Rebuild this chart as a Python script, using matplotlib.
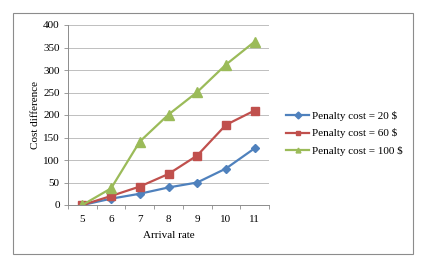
import matplotlib.pyplot as plt
from matplotlib.patches import Rectangle

# data
arrival = ["5", "6", "7", "8", "9", "10", "11"]
cost_20 = [0, 14, 25, 39, 50, 81, 126]
cost_60 = [0, 20, 41, 69, 110, 178, 210]
cost_100 = [0, 37, 141, 201, 251, 312, 363]
labels = ["Penalty cost = 20 $", "Penalty cost = 60 $", "Penalty cost = 100 $"]

plt.rcParams['font.family'] = ['Liberation Serif', 'DejaVu Serif']
plt.rcParams['font.size'] = 8

fig = plt.figure(figsize=(4.26, 2.66), dpi=100)
fig.patches.append(Rectangle((13 / 426, 1 - 254 / 266), 400 / 426, 241 / 266,
                             transform=fig.transFigure, fill=False,
                             edgecolor="#8c8c8c", linewidth=0.8))
ax = fig.add_axes([68 / 426, 1 - 205 / 266, 201 / 426, 180 / 266])

x = list(range(len(arrival)))
ax.plot(x, cost_20, color="#4F81BD", marker="D", markersize=4.5, lw=1.6, label=labels[0])
ax.plot(x, cost_60, color="#C0504D", marker="s", markersize=5.5, lw=1.6, label=labels[1])
ax.plot(x, cost_100, color="#9BBB59", marker="^", markersize=6.5, lw=1.6, label=labels[2])

ax.set_xlim(-0.5, len(arrival) - 0.5)
ax.set_ylim(0, 400)
ax.set_yticks(range(0, 401, 50))
ax.set_xticks(x)
ax.set_xticklabels(arrival)
ax.set_xticks([i - 0.5 for i in range(len(arrival) + 1)], minor=True)
ax.tick_params(axis="x", which="major", length=0, pad=7)
ax.tick_params(axis="x", which="minor", length=3, color="#8c8c8c", width=0.6)
ax.tick_params(axis="y", length=3, color="#8c8c8c", width=0.6, pad=3)
ax.yaxis.grid(True, color="#bfbfbf", lw=0.7)
ax.set_axisbelow(True)
for s in ["top", "right"]:
    ax.spines[s].set_visible(False)
for s in ["left", "bottom"]:
    ax.spines[s].set_color("#8c8c8c")
    ax.spines[s].set_linewidth(0.7)

ax.set_xlabel("Arrival rate", labelpad=5)
ax.set_ylabel("Cost difference", labelpad=2)

leg = fig.legend(loc="center left", bbox_to_anchor=(286 / 426, 1 - 133.5 / 266),
                 bbox_transform=fig.transFigure, frameon=False, borderpad=0,
                 borderaxespad=0, handlelength=2.1, handletextpad=0.2,
                 labelspacing=0.68)
for h in leg.legend_handles:
    h.set_markersize(3.5)

fig.savefig("out.png", dpi=100)
